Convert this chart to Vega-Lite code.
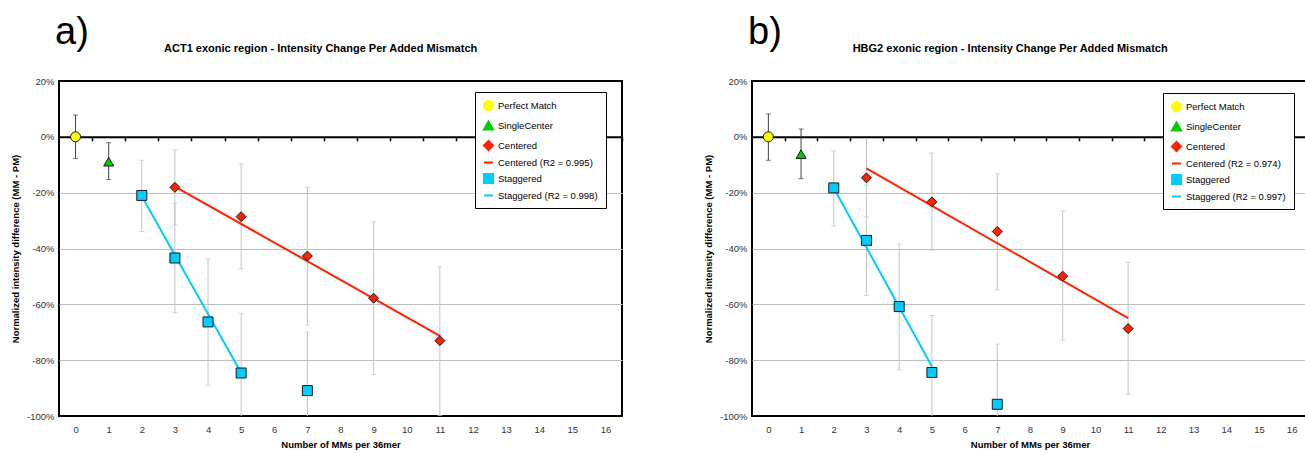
{
  "$schema": "https://vega.github.io/schema/vega-lite/v6.json",
  "background": "white",
  "padding": {"left": 9, "top": 14, "right": 0, "bottom": 0},
  "config": {
    "font": "Liberation Sans",
    "view": {"stroke": "#000000", "strokeWidth": 2},
    "axis": {"labelFont": "Liberation Sans", "titleFont": "Liberation Sans", "labelColor": "#333333", "titleColor": "#000000", "labelFontSize": 9.5, "titleFontSize": 9.5, "titleFontWeight": "bold"}
  },
  "datasets": {
    "pts": [
      {"panel": "a", "series": "Perfect Match", "x": 0, "y": 0, "lo": -7.8, "hi": 7.8},
      {"panel": "a", "series": "SingleCenter", "x": 1, "y": -8.9, "lo": -15.3, "hi": -2.1},
      {"panel": "a", "series": "Staggered", "x": 2, "y": -21.0, "lo": -33.9, "hi": -8.4},
      {"panel": "a", "series": "Staggered", "x": 3, "y": -43.4, "lo": -63.0, "hi": -23.8},
      {"panel": "a", "series": "Staggered", "x": 4, "y": -66.3, "lo": -89.0, "hi": -43.7},
      {"panel": "a", "series": "Staggered", "x": 5, "y": -84.6, "lo": -106.0, "hi": -63.2},
      {"panel": "a", "series": "Staggered", "x": 7, "y": -90.9, "lo": -111.9, "hi": -69.9},
      {"panel": "a", "series": "Centered", "x": 3, "y": -18.1, "lo": -31.6, "hi": -4.7},
      {"panel": "a", "series": "Centered", "x": 5, "y": -28.6, "lo": -47.3, "hi": -9.7},
      {"panel": "a", "series": "Centered", "x": 7, "y": -42.7, "lo": -67.4, "hi": -18.0},
      {"panel": "a", "series": "Centered", "x": 9, "y": -57.8, "lo": -85.1, "hi": -30.4},
      {"panel": "a", "series": "Centered", "x": 11, "y": -73.0, "lo": -99.8, "hi": -46.5},
      {"panel": "b", "series": "Perfect Match", "x": 0, "y": 0, "lo": -8.4, "hi": 8.2},
      {"panel": "b", "series": "SingleCenter", "x": 1, "y": -6.2, "lo": -15.0, "hi": 2.8},
      {"panel": "b", "series": "Staggered", "x": 2, "y": -18.3, "lo": -31.9, "hi": -5.0},
      {"panel": "b", "series": "Staggered", "x": 3, "y": -37.1, "lo": -56.8, "hi": -17.3},
      {"panel": "b", "series": "Staggered", "x": 4, "y": -60.8, "lo": -83.5, "hi": -38.4},
      {"panel": "b", "series": "Staggered", "x": 5, "y": -84.4, "lo": -104.8, "hi": -64.0},
      {"panel": "b", "series": "Staggered", "x": 7, "y": -95.8, "lo": -117.4, "hi": -74.2},
      {"panel": "b", "series": "Centered", "x": 3, "y": -14.7, "lo": -28.7, "hi": -0.7},
      {"panel": "b", "series": "Centered", "x": 5, "y": -23.3, "lo": -40.6, "hi": -5.8},
      {"panel": "b", "series": "Centered", "x": 7, "y": -33.9, "lo": -54.8, "hi": -13.2},
      {"panel": "b", "series": "Centered", "x": 9, "y": -49.9, "lo": -72.8, "hi": -26.6},
      {"panel": "b", "series": "Centered", "x": 11, "y": -68.7, "lo": -92.2, "hi": -45.0}
    ],
    "fit": [
      {"panel": "a", "series": "Centered (R2 = 0.995)", "x": 3, "y": -17.8},
      {"panel": "a", "series": "Centered (R2 = 0.995)", "x": 11, "y": -71.3},
      {"panel": "a", "series": "Staggered (R2 = 0.998)", "x": 2, "y": -21.3},
      {"panel": "a", "series": "Staggered (R2 = 0.998)", "x": 5, "y": -84.5},
      {"panel": "b", "series": "Centered (R2 = 0.974)", "x": 3, "y": -11.3},
      {"panel": "b", "series": "Centered (R2 = 0.974)", "x": 11, "y": -64.9},
      {"panel": "b", "series": "Staggered (R2 = 0.997)", "x": 2, "y": -18.3},
      {"panel": "b", "series": "Staggered (R2 = 0.997)", "x": 5, "y": -82.3}
    ]
  },
  "spacing": 78,
  "resolve": {"scale": {"color": "independent", "shape": "independent", "x": "independent", "y": "independent"}},
  "hconcat": [
    {
      "title": {"text": "a)", "anchor": "start", "frame": "group", "fontSize": 38, "fontWeight": "normal", "baseline": "alphabetic", "offset": -40, "dx": -4, "color": "#000000"},
      "vconcat": [
        {
          "width": 563,
          "height": 335,
          "title": {"text": "ACT1 exonic region - Intensity Change Per Added Mismatch", "anchor": "middle", "frame": "bounds", "fontSize": 11, "fontWeight": "bold", "baseline": "bottom", "offset": 11, "dx": 4, "color": "#000000"},
          "layer": [
            {
              "data": {"name": "pts"},
              "transform": [{"filter": "datum.panel === 'a'"}],
              "mark": {"type": "rule", "clip": true, "strokeWidth": 1},
              "encoding": {
                "x": {"field": "x", "type": "quantitative", "title": "Number of MMs per 36mer", "scale": {"domain": [-0.5, 16.5], "nice": false, "zero": false}, "axis": {"orient": "bottom", "offset": -279.17, "values": [0,1,2,3,4,5,6,7,8,9,10,11,12,13,14,15,16], "tickCount": 17, "labelOverlap": false, "labelBound": false, "labelFlush": false, "grid": false, "domain": true, "domainColor": "#000000", "domainWidth": 2, "ticks": true, "tickColor": "#000000", "tickWidth": 1.5, "tickSize": 4, "tickOffset": 16.56, "labelOffset": -16.56, "labelPadding": 283.5, "maxExtent": 400, "titlePadding": 6}},
                "y": {"field": "lo", "type": "quantitative", "title": "Normalized intensity difference (MM - PM)", "scale": {"domain": [-100, 20], "nice": false, "zero": false}, "axis": {"values": [20,0,-20,-40,-60,-80,-100], "labelExpr": "datum.value + '%'", "grid": true, "gridColor": {"condition": {"test": "datum.value === 0 || datum.value === 20 || datum.value === -100", "value": "transparent"}, "value": "#bfbfbf"}, "domain": false, "ticks": false, "labelPadding": 5, "titlePadding": 6}},
                "y2": {"field": "hi"},
                "stroke": {"condition": {"test": "datum.series === 'Perfect Match' || datum.series === 'SingleCenter'", "value": "#404040"}, "value": "#c4c4c4"}
              }
            },
            {
              "data": {"name": "pts"},
              "transform": [{"filter": "datum.panel === 'a'"}],
              "mark": {"type": "tick", "orient": "horizontal", "clip": true, "size": 5, "thickness": 1},
              "encoding": {
                "x": {"field": "x", "type": "quantitative", "title": "Number of MMs per 36mer"},
                "y": {"field": "hi", "type": "quantitative", "title": "Normalized intensity difference (MM - PM)"},
                "color": {"condition": {"test": "datum.series === 'Perfect Match' || datum.series === 'SingleCenter'", "value": "#404040"}, "value": "#c4c4c4"}
              }
            },
            {
              "data": {"name": "pts"},
              "transform": [{"filter": "datum.panel === 'a'"}],
              "mark": {"type": "tick", "orient": "horizontal", "clip": true, "size": 5, "thickness": 1},
              "encoding": {
                "x": {"field": "x", "type": "quantitative", "title": "Number of MMs per 36mer"},
                "y": {"field": "lo", "type": "quantitative", "title": "Normalized intensity difference (MM - PM)"},
                "color": {"condition": {"test": "datum.series === 'Perfect Match' || datum.series === 'SingleCenter'", "value": "#404040"}, "value": "#c4c4c4"}
              }
            },
            {
              "data": {"name": "fit"},
              "transform": [{"filter": "datum.panel === 'a'"}],
              "mark": {"type": "line", "strokeWidth": 2},
              "encoding": {
                "x": {"field": "x", "type": "quantitative", "title": "Number of MMs per 36mer"},
                "y": {"field": "y", "type": "quantitative", "title": "Normalized intensity difference (MM - PM)"},
                "color": {"field": "series", "type": "nominal", "scale": {"domain": ["Perfect Match", "SingleCenter", "Centered", "Centered (R2 = 0.995)", "Staggered", "Staggered (R2 = 0.998)"], "range": ["#ffff00", "#00cc00", "#ff2200", "#ff2200", "#00ccff", "#00ccff"]},
                  "legend": {"title": null, "orient": "none", "legendX": 416, "legendY": 11, "padding": 8, "strokeColor": "#000000", "fillColor": "#ffffff", "labelFont": "Liberation Sans", "labelFontSize": 9.5, "labelColor": "#000000", "labelOffset": 4, "symbolSize": 81, "symbolStrokeWidth": 2, "rowPadding": 3}}
              }
            },
            {
              "data": {"name": "pts"},
              "transform": [{"filter": "datum.panel === 'a'"}],
              "mark": {"type": "point", "filled": true, "size": 100, "stroke": "#1a1a1a", "strokeWidth": 1, "opacity": 1},
              "encoding": {
                "x": {"field": "x", "type": "quantitative", "title": "Number of MMs per 36mer"},
                "y": {"field": "y", "type": "quantitative", "title": "Normalized intensity difference (MM - PM)"},
                "color": {"field": "series", "type": "nominal", "scale": {"domain": ["Perfect Match", "SingleCenter", "Centered", "Centered (R2 = 0.995)", "Staggered", "Staggered (R2 = 0.998)"], "range": ["#ffff00", "#00cc00", "#ff2200", "#ff2200", "#00ccff", "#00ccff"]},
                  "legend": {"title": null, "orient": "none", "legendX": 416, "legendY": 11, "padding": 8, "strokeColor": "#000000", "fillColor": "#ffffff", "labelFont": "Liberation Sans", "labelFontSize": 9.5, "labelColor": "#000000", "labelOffset": 4, "symbolSize": 81, "symbolStrokeWidth": 2, "rowPadding": 3}},
                "shape": {"field": "series", "type": "nominal", "scale": {"domain": ["Perfect Match", "SingleCenter", "Centered", "Centered (R2 = 0.995)", "Staggered", "Staggered (R2 = 0.998)"], "range": ["circle", "triangle-up", "diamond", "stroke", "square", "stroke"]},
                  "legend": {"title": null, "orient": "none", "legendX": 416, "legendY": 11, "padding": 8, "strokeColor": "#000000", "fillColor": "#ffffff", "labelFont": "Liberation Sans", "labelFontSize": 9.5, "labelColor": "#000000", "labelOffset": 4, "symbolSize": 81, "symbolStrokeWidth": 2, "rowPadding": 3}}
              }
            }
          ]
        }
      ]
    },
    {
      "title": {"text": "b)", "anchor": "start", "frame": "group", "fontSize": 38, "fontWeight": "normal", "baseline": "alphabetic", "offset": -40, "dx": -4, "color": "#000000"},
      "vconcat": [
        {
          "width": 556,
          "height": 335,
          "title": {"text": "HBG2 exonic region - Intensity Change Per Added Mismatch", "anchor": "middle", "frame": "bounds", "fontSize": 11, "fontWeight": "bold", "baseline": "bottom", "offset": 11, "dx": 4, "color": "#000000"},
          "layer": [
            {
              "data": {"name": "pts"},
              "transform": [{"filter": "datum.panel === 'b'"}],
              "mark": {"type": "rule", "clip": true, "strokeWidth": 1},
              "encoding": {
                "x": {"field": "x", "type": "quantitative", "title": "Number of MMs per 36mer", "scale": {"domain": [-0.5, 16.5], "nice": false, "zero": false}, "axis": {"orient": "bottom", "offset": -279.17, "values": [0,1,2,3,4,5,6,7,8,9,10,11,12,13,14,15,16], "tickCount": 17, "labelOverlap": false, "labelBound": false, "labelFlush": false, "grid": false, "domain": true, "domainColor": "#000000", "domainWidth": 2, "ticks": true, "tickColor": "#000000", "tickWidth": 1.5, "tickSize": 4, "tickOffset": 16.35, "labelOffset": -16.35, "labelPadding": 283.5, "maxExtent": 400, "titlePadding": 6}},
                "y": {"field": "lo", "type": "quantitative", "title": "Normalized intensity difference (MM - PM)", "scale": {"domain": [-100, 20], "nice": false, "zero": false}, "axis": {"values": [20,0,-20,-40,-60,-80,-100], "labelExpr": "datum.value + '%'", "grid": true, "gridColor": {"condition": {"test": "datum.value === 0 || datum.value === 20 || datum.value === -100", "value": "transparent"}, "value": "#bfbfbf"}, "domain": false, "ticks": false, "labelPadding": 5, "titlePadding": 6}},
                "y2": {"field": "hi"},
                "stroke": {"condition": {"test": "datum.series === 'Perfect Match' || datum.series === 'SingleCenter'", "value": "#404040"}, "value": "#c4c4c4"}
              }
            },
            {
              "data": {"name": "pts"},
              "transform": [{"filter": "datum.panel === 'b'"}],
              "mark": {"type": "tick", "orient": "horizontal", "clip": true, "size": 5, "thickness": 1},
              "encoding": {
                "x": {"field": "x", "type": "quantitative", "title": "Number of MMs per 36mer"},
                "y": {"field": "hi", "type": "quantitative", "title": "Normalized intensity difference (MM - PM)"},
                "color": {"condition": {"test": "datum.series === 'Perfect Match' || datum.series === 'SingleCenter'", "value": "#404040"}, "value": "#c4c4c4"}
              }
            },
            {
              "data": {"name": "pts"},
              "transform": [{"filter": "datum.panel === 'b'"}],
              "mark": {"type": "tick", "orient": "horizontal", "clip": true, "size": 5, "thickness": 1},
              "encoding": {
                "x": {"field": "x", "type": "quantitative", "title": "Number of MMs per 36mer"},
                "y": {"field": "lo", "type": "quantitative", "title": "Normalized intensity difference (MM - PM)"},
                "color": {"condition": {"test": "datum.series === 'Perfect Match' || datum.series === 'SingleCenter'", "value": "#404040"}, "value": "#c4c4c4"}
              }
            },
            {
              "data": {"name": "fit"},
              "transform": [{"filter": "datum.panel === 'b'"}],
              "mark": {"type": "line", "strokeWidth": 2},
              "encoding": {
                "x": {"field": "x", "type": "quantitative", "title": "Number of MMs per 36mer"},
                "y": {"field": "y", "type": "quantitative", "title": "Normalized intensity difference (MM - PM)"},
                "color": {"field": "series", "type": "nominal", "scale": {"domain": ["Perfect Match", "SingleCenter", "Centered", "Centered (R2 = 0.974)", "Staggered", "Staggered (R2 = 0.997)"], "range": ["#ffff00", "#00cc00", "#ff2200", "#ff2200", "#00ccff", "#00ccff"]},
                  "legend": {"title": null, "orient": "none", "legendX": 411, "legendY": 12, "padding": 8, "strokeColor": "#000000", "fillColor": "#ffffff", "labelFont": "Liberation Sans", "labelFontSize": 9.5, "labelColor": "#000000", "labelOffset": 4, "symbolSize": 81, "symbolStrokeWidth": 2, "rowPadding": 3}}
              }
            },
            {
              "data": {"name": "pts"},
              "transform": [{"filter": "datum.panel === 'b'"}],
              "mark": {"type": "point", "filled": true, "size": 100, "stroke": "#1a1a1a", "strokeWidth": 1, "opacity": 1},
              "encoding": {
                "x": {"field": "x", "type": "quantitative", "title": "Number of MMs per 36mer"},
                "y": {"field": "y", "type": "quantitative", "title": "Normalized intensity difference (MM - PM)"},
                "color": {"field": "series", "type": "nominal", "scale": {"domain": ["Perfect Match", "SingleCenter", "Centered", "Centered (R2 = 0.974)", "Staggered", "Staggered (R2 = 0.997)"], "range": ["#ffff00", "#00cc00", "#ff2200", "#ff2200", "#00ccff", "#00ccff"]},
                  "legend": {"title": null, "orient": "none", "legendX": 411, "legendY": 12, "padding": 8, "strokeColor": "#000000", "fillColor": "#ffffff", "labelFont": "Liberation Sans", "labelFontSize": 9.5, "labelColor": "#000000", "labelOffset": 4, "symbolSize": 81, "symbolStrokeWidth": 2, "rowPadding": 3}},
                "shape": {"field": "series", "type": "nominal", "scale": {"domain": ["Perfect Match", "SingleCenter", "Centered", "Centered (R2 = 0.974)", "Staggered", "Staggered (R2 = 0.997)"], "range": ["circle", "triangle-up", "diamond", "stroke", "square", "stroke"]},
                  "legend": {"title": null, "orient": "none", "legendX": 411, "legendY": 12, "padding": 8, "strokeColor": "#000000", "fillColor": "#ffffff", "labelFont": "Liberation Sans", "labelFontSize": 9.5, "labelColor": "#000000", "labelOffset": 4, "symbolSize": 81, "symbolStrokeWidth": 2, "rowPadding": 3}}
              }
            }
          ]
        }
      ]
    }
  ]
}
